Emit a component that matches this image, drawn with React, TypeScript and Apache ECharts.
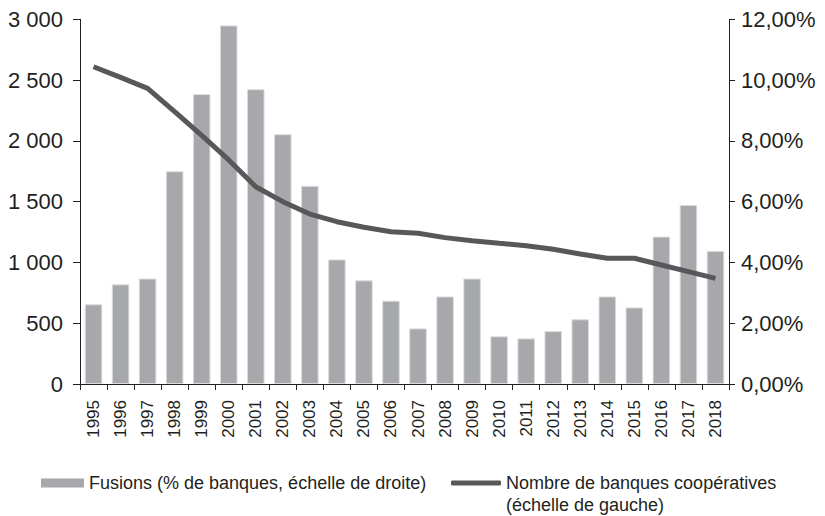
import React, { useEffect, useRef } from "react";
import * as echarts from "echarts";

const years = ["1995","1996","1997","1998","1999","2000","2001","2002","2003","2004","2005","2006","2007","2008","2009","2010","2011","2012","2013","2014","2015","2016","2017","2018"];
const fusionsPct = [2.62, 3.28, 3.47, 7.0, 9.54, 11.8, 9.7, 8.22, 6.52, 4.1, 3.41, 2.74, 1.83, 2.88, 3.47, 1.57, 1.5, 1.74, 2.13, 2.88, 2.52, 4.85, 5.89, 4.38];
const banques = [2610, 2522, 2432, 2240, 2045, 1843, 1623, 1500, 1398, 1335, 1289, 1253, 1240, 1204, 1179, 1157, 1138, 1108, 1069, 1034, 1034, 979, 924, 869];
const leftTicks = { min: 0, max: 3000, interval: 500 };
const rightTicks = { min: 0, max: 12, interval: 2 };

const NAME_BAR = "Fusions (% de banques, échelle de droite)";
const NAME_LINE = "Nombre de banques coopératives\n(échelle de gauche)";

const TXT = "#231f20";
const SANS = "'Liberation Sans', Arial, Helvetica, sans-serif";
const BAR_COLOR = "#a7a8ac";
const LINE_COLOR = "#58585a";

function fmtLeft(v: number) {
  if (v >= 1000) {
    const th = Math.floor(v / 1000);
    const rest = String(v % 1000).padStart(3, "0");
    return th + " " + rest;
  }
  return String(v);
}
function fmtRight(v: number) {
  return v.toFixed(2).replace(".", ",") + "%";
}

export default function App() {
  const ref = useRef<HTMLDivElement>(null);
  useEffect(() => {
    if (!ref.current) return;
    const chart = echarts.init(ref.current, undefined, { renderer: "svg" });
    chart.setOption({
      animation: false,
      backgroundColor: "#ffffff",
      grid: { left: 80, right: 96, top: 19.3, bottom: 132, containLabel: false },
      legend: [
        {
          data: [{ name: NAME_BAR, icon: "rect" }],
          left: 41,
          top: 472,
          padding: 0,
          itemWidth: 43,
          itemHeight: 9,
          itemGap: 10,
          itemStyle: { borderWidth: 0, color: BAR_COLOR },
          textStyle: { fontFamily: SANS, fontSize: 18, lineHeight: 22, color: TXT },
        },
        {
          data: [{ name: NAME_LINE, icon: "roundRect" }],
          left: 451,
          top: 450,
          padding: 0,
          itemWidth: 50,
          itemHeight: 5,
          itemGap: 11,
          formatter: (n: string) => "\n" + n,
          itemStyle: { color: LINE_COLOR, borderWidth: 0 },
          textStyle: { fontFamily: SANS, fontSize: 18, lineHeight: 22, color: TXT },
        },
      ],
      xAxis: {
        type: "category",
        data: years,
        boundaryGap: true,
        axisLine: { lineStyle: { color: TXT, width: 1 } },
        axisTick: { show: true, length: 6, lineStyle: { color: TXT } },
        axisLabel: { rotate: 90, margin: 16, fontFamily: SANS, fontSize: 17, color: TXT, interval: 0 },
      },
      yAxis: [
        {
          type: "value",
          position: "left",
          min: leftTicks.min,
          max: leftTicks.max,
          interval: leftTicks.interval,
          splitLine: { show: false },
          axisLine: { show: true, lineStyle: { color: TXT, width: 1 } },
          axisTick: { show: true, length: 7, lineStyle: { color: TXT } },
          axisLabel: { margin: 17, fontFamily: SANS, fontSize: 22, color: TXT, formatter: fmtLeft },
        },
        {
          type: "value",
          position: "right",
          min: rightTicks.min,
          max: rightTicks.max,
          interval: rightTicks.interval,
          splitLine: { show: false },
          axisLine: { show: true, lineStyle: { color: TXT, width: 1 } },
          axisTick: { show: true, length: 6, lineStyle: { color: TXT } },
          axisLabel: { margin: 12, fontFamily: SANS, fontSize: 22, color: TXT, formatter: fmtRight },
        },
      ],
      series: [
        {
          name: NAME_BAR,
          type: "bar",
          yAxisIndex: 1,
          data: fusionsPct,
          barCategoryGap: "35%",
          itemStyle: { color: BAR_COLOR, borderColor: "#dcdcdc", borderWidth: 1 },
        },
        {
          name: NAME_LINE,
          type: "line",
          yAxisIndex: 0,
          data: banques,
          symbol: "none",
          lineStyle: { color: LINE_COLOR, width: 5 },
          itemStyle: { color: LINE_COLOR },
        },
      ],
    });
    return () => chart.dispose();
  }, []);
  return <div ref={ref} style={{ width: 825, height: 516, position: "absolute", left: 0, top: 0 }} />;
}
